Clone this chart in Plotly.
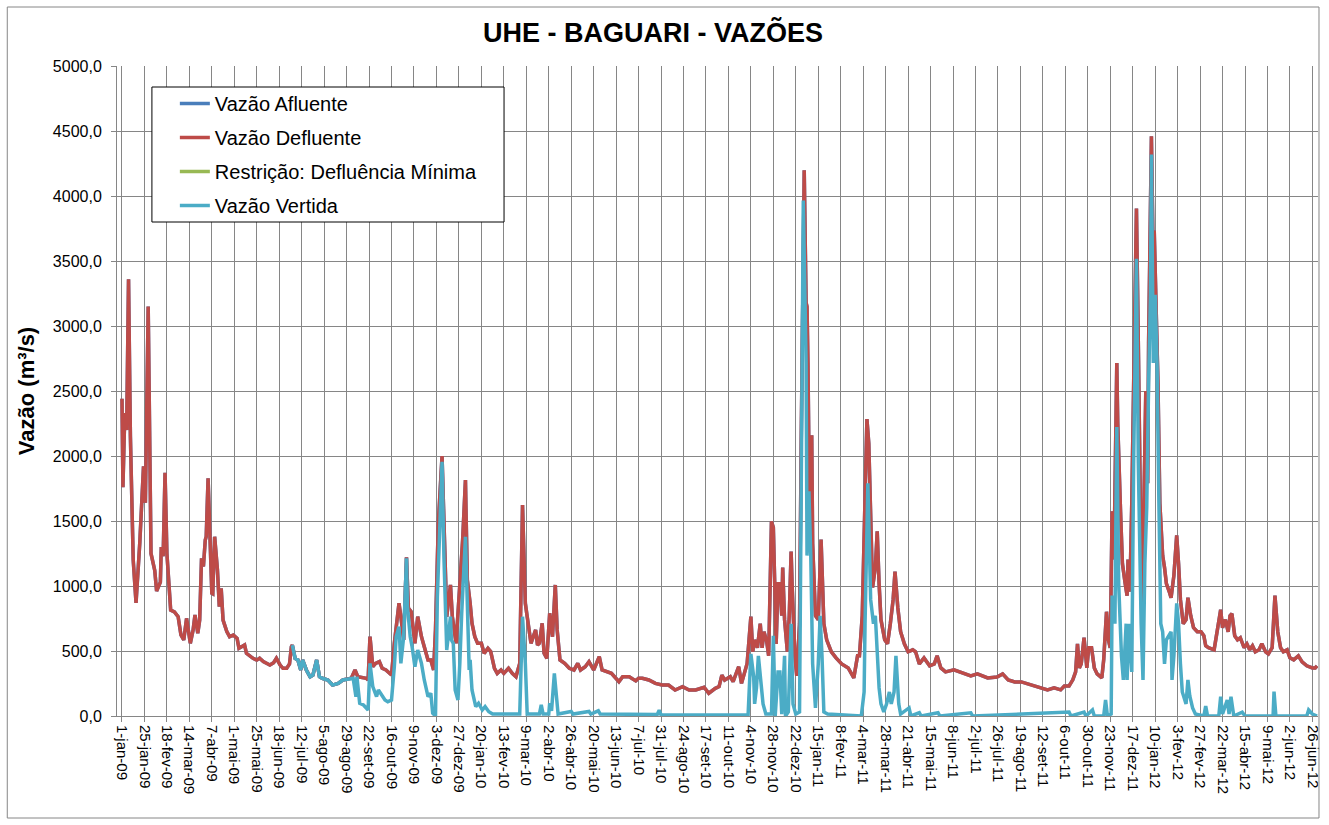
import pandas as pd
import plotly.graph_objects as go

# ---------------- data (day index counted from 1-jan-2009) ----------------
dias_defluente = [
    0, 1, 3, 5, 7, 9, 11, 12, 15, 19, 23, 25, 28, 30, 31, 35, 37, 41, 42, 44, 46, 48, 51, 52, 56, 60, 63, 66, 69, 71,
    73, 76, 78, 81, 83, 85, 87, 89, 90, 92, 94, 96, 97, 99, 102, 104, 106, 108, 112, 115, 119, 123, 125, 128, 131, 133,
    137, 140, 144, 147, 151, 154, 158, 162, 165, 169, 172, 176, 179, 181, 182, 185, 188, 191, 193, 197, 201, 204, 208,
    211, 214, 220, 225, 231, 236, 245, 249, 252, 261, 263, 265, 268, 271, 275, 278, 282, 288, 291, 296, 298, 301, 304,
    306, 309, 313, 316, 320, 323, 327, 330, 333, 335, 338, 342, 344, 347, 351, 353, 357, 360, 364, 367, 369, 372, 374,
    377, 380, 384, 387, 391, 394, 398, 401, 405, 408, 413, 417, 421, 425, 428, 431, 433, 437, 442, 444, 446, 449, 451,
    454, 457, 460, 463, 465, 468, 473, 478, 483, 487, 490, 495, 499, 504, 510, 513, 518, 523, 531, 535, 542, 549, 552,
    556, 563, 570, 577, 584, 591, 599, 606, 613, 622, 627, 634, 638, 641, 644, 650, 653, 659, 662, 668, 672, 674, 676,
    679, 682, 684, 686, 689, 691, 694, 696, 698, 699, 701, 703, 705, 706, 708, 711, 713, 715, 716, 719, 721, 724, 726,
    728, 729, 731, 732, 733, 735, 737, 738, 741, 744, 747, 748, 750, 753, 758, 763, 769, 776, 782, 786, 788, 791, 793,
    796, 798, 800, 802, 805, 807, 809, 811, 815, 818, 821, 824, 826, 829, 832, 836, 840, 845, 848, 852, 857, 863, 868,
    871, 875, 880, 889, 896, 907, 914, 925, 935, 941, 947, 954, 961, 968, 975, 982, 989, 996, 1003, 1007, 1012, 1016,
    1019, 1021, 1023, 1025, 1028, 1031, 1033, 1036, 1039, 1042, 1047, 1049, 1052, 1054, 1056, 1058, 1060, 1063, 1064,
    1067, 1069, 1072, 1074, 1075, 1077, 1079, 1081, 1084, 1086, 1088, 1090, 1092, 1094, 1096, 1097, 1100, 1102, 1103,
    1105, 1107, 1109, 1111, 1112, 1114, 1116, 1119, 1121, 1124, 1127, 1129, 1131, 1134, 1137, 1139, 1142, 1145, 1149,
    1153, 1156, 1158, 1161, 1167, 1170, 1174, 1176, 1179, 1182, 1184, 1186, 1189, 1192, 1195, 1199, 1202, 1205, 1208,
    1211, 1215, 1218, 1222, 1225, 1229, 1232, 1235, 1238, 1241, 1245, 1248, 1252, 1257, 1261, 1266, 1272, 1275, 1277,
]
vazao_defluente = [
    2440, 1760, 2330, 2200, 3360, 2150, 1510, 1200, 870, 1330, 1920, 1640, 3150, 1640, 1250, 1120, 960, 1030, 1300,
    1230, 1870, 1250, 870, 815, 800, 764, 623, 585, 751, 636, 559, 662, 777, 636, 738, 1213, 1150, 1354, 1380, 1828,
    1379, 944, 940, 1379, 1123, 841, 982, 738, 649, 610, 623, 597, 521, 533, 546, 482, 456, 444, 430, 444, 418, 405,
    392, 410, 444, 392, 367, 367, 400, 533, 546, 444, 431, 354, 431, 354, 302, 315, 431, 302, 290, 277, 238, 251, 277,
    290, 354, 302, 290, 277, 610, 379, 405, 418, 367, 354, 315, 559, 867, 764, 585, 1220, 830, 802, 559, 764, 610, 533,
    431, 431, 354, 662, 1480, 2000, 1431, 764, 1008, 764, 559, 867, 1354, 1815, 1046, 867, 713, 610, 559, 559, 482,
    521, 495, 367, 328, 354, 328, 367, 328, 302, 405, 1623, 867, 764, 559, 662, 546, 560, 713, 482, 444, 790, 610,
    1008, 662, 431, 405, 367, 354, 405, 354, 379, 418, 354, 456, 354, 341, 328, 264, 302, 302, 270, 290, 290, 277,
    251, 238, 238, 200, 226, 200, 200, 221, 175, 213, 226, 315, 277, 302, 264, 379, 251, 405, 764, 494, 585, 525, 710,
    525, 648, 570, 463, 1497, 1450, 864, 555, 1018, 1018, 771, 1142, 741, 494, 771, 1265, 1018, 463, 309, 710, 2253,
    3487, 4197, 3179, 3148, 2716, 1327, 2160, 1327, 771, 741, 1358, 1080, 710, 586, 494, 447, 401, 370, 293, 463, 463,
    771, 1358, 2284, 2098, 1636, 988, 1142, 1420, 1018, 741, 586, 555, 710, 895, 1111, 833, 648, 555, 494, 509, 494,
    401, 447, 386, 401, 463, 370, 339, 355, 339, 309, 324, 293, 300, 324, 278, 262, 262, 247, 231, 216, 201, 216, 201,
    231, 231, 278, 339, 555, 370, 401, 602, 370, 525, 525, 370, 324, 293, 432, 802, 586, 525, 1574, 1204, 2716, 2253,
    1574, 1173, 1018, 926, 1204, 957, 1636, 2562, 3904, 2870, 1636, 617, 1636, 2500, 1790, 2870, 4459, 3487, 3734,
    3240, 2562, 1636, 1327, 1234, 1142, 1018, 957, 910, 1080, 1389, 1173, 895, 710, 741, 910, 771, 679, 648, 648, 617,
    540, 525, 509, 648, 818, 679, 741, 648, 771, 787, 617, 586, 602, 525, 555, 509, 540, 494, 509, 555, 494, 478, 525,
    926, 648, 525, 494, 509, 447, 432, 463, 416, 386, 370, 370, 386,
]
# afluente read as overlapping the defluente curve (hidden underneath it)
dias_afluente = list(dias_defluente)
vazao_afluente = list(vazao_defluente)

# restrição: no visible values in the picture (legend entry only)
dias_restricao = [0]
vazao_restricao = [None]

dias_vertida = [
    182, 185, 188, 191, 193, 197, 201, 204, 208, 211, 214, 220, 225, 231, 236, 245, 247, 250, 251, 254, 258, 263, 265,
    268, 272, 274, 276, 281, 284, 288, 291, 293, 296, 298, 301, 304, 305, 308, 310, 313, 316, 320, 323, 327, 330, 332,
    335, 337, 342, 344, 347, 351, 352, 354, 356, 359, 361, 363, 367, 369, 371, 372, 374, 378, 381, 385, 388, 392, 396,
    425, 428, 431, 433, 446, 448, 450, 456, 457, 459, 462, 464, 466, 480, 482, 499, 501, 509, 511, 572, 574, 576, 669,
    672, 675, 676, 678, 680, 683, 685, 688, 694, 696, 698, 701, 703, 705, 708, 709, 712, 715, 717, 720, 724, 726, 728,
    731, 732, 734, 736, 738, 741, 744, 746, 748, 750, 754, 770, 790, 793, 794, 797, 799, 800, 803, 805, 807, 809, 811,
    814, 817, 820, 822, 825, 827, 830, 832, 841, 843, 852, 854, 872, 874, 907, 909, 1012, 1014, 1028, 1030, 1037, 1039,
    1049, 1051, 1053, 1057, 1058, 1061, 1063, 1065, 1068, 1070, 1073, 1074, 1076, 1079, 1081, 1084, 1086, 1089, 1091,
    1093, 1095, 1097, 1099, 1100, 1102, 1104, 1106, 1108, 1110, 1112, 1114, 1116, 1118, 1121, 1122, 1124, 1127, 1129,
    1131, 1133, 1137, 1139, 1141, 1144, 1147, 1156, 1158, 1160, 1172, 1174, 1176, 1181, 1183, 1185, 1188, 1197, 1200,
    1230, 1231, 1233, 1266, 1268, 1272, 1277,
]
vazao_vertida = [
    546, 444, 431, 354, 431, 354, 302, 315, 431, 302, 290, 277, 238, 251, 277, 290, 290, 149, 302, 98, 85, 46, 405,
    226, 149, 200, 175, 123, 110, 123, 379, 610, 687, 405, 610, 1213, 841, 610, 533, 379, 508, 405, 277, 149, 175, 21,
    0, 918, 1956, 1226, 508, 764, 585, 559, 200, 123, 405, 790, 1379, 764, 354, 431, 200, 72, 98, 46, 72, 33, 15,
    15, 764, 405, 15, 15, 85, 15, 15, 98, 40, 328, 175, 15, 35, 15, 35, 15, 40, 15, 12, 45, 8, 8,
    478, 300, 93, 216, 463, 216, 93, 15, 15, 617, 0, 339, 339, 15, 463, 0, 31, 710, 93, 15, 31, 1944, 3966,
    2716, 1234, 1728, 1234, 401, 62, 401, 771, 463, 31, 15, 10, 0, 185, 710, 1790, 1327, 895, 710, 771, 494, 216, 93,
    31, 93, 185, 93, 185, 463, 93, 15, 62, 0, 25, 0, 25, 0, 25, 0, 30, 0, 30, 0, 46, 0,
    0, 123, 0, 15, 926, 710, 2222, 1019, 463, 278, 710, 278, 710, 339, 1944, 3518, 1944, 710, 278,
    1173, 1605, 2562, 3240, 4320, 2716, 3240, 2716, 1636, 710, 648, 401, 586, 617, 648, 278, 463, 867, 710,
    401, 185, 93, 278, 154, 62, 15, 0, 77, 0, 0, 149, 15, 123, 15, 149, 0, 30, 0,
    0, 187, 0, 0, 46, 15, 0,
]

rotulos_x = [
    "1-jan-09", "25-jan-09", "18-fev-09", "14-mar-09", "7-abr-09", "1-mai-09", "25-mai-09", "18-jun-09", "12-jul-09",
    "5-ago-09", "29-ago-09", "22-set-09", "16-out-09", "9-nov-09", "3-dez-09", "27-dez-09", "20-jan-10", "13-fev-10",
    "9-mar-10", "2-abr-10", "26-abr-10", "20-mai-10", "13-jun-10", "7-jul-10", "31-jul-10", "24-ago-10", "17-set-10",
    "11-out-10", "4-nov-10", "28-nov-10", "22-dez-10", "15-jan-11", "8-fev-11", "4-mar-11", "28-mar-11", "21-abr-11",
    "15-mai-11", "8-jun-11", "2-jul-11", "26-jul-11", "19-ago-11", "12-set-11", "6-out-11", "30-out-11", "23-nov-11",
    "17-dez-11", "10-jan-12", "3-fev-12", "27-fev-12", "22-mar-12", "15-abr-12", "9-mai-12", "2-jun-12", "26-jun-12",
]

# ---------------- helpers ----------------
INICIO = pd.Timestamp("2009-01-01")
MESES = {"jan": 1, "fev": 2, "mar": 3, "abr": 4, "mai": 5, "jun": 6,
         "jul": 7, "ago": 8, "set": 9, "out": 10, "nov": 11, "dez": 12}


def to_dates(dias):
    return [INICIO + pd.Timedelta(days=d) for d in dias]


def parse_rotulo(s):
    d, m, a = s.split("-")
    return pd.Timestamp(year=2000 + int(a), month=MESES[m], day=int(d))


tick_vals = [parse_rotulo(s) for s in rotulos_x]

FONT = "Liberation Sans"
LW = 3.5

fig = go.Figure()
fig.add_trace(go.Scatter(x=to_dates(dias_afluente), y=vazao_afluente, mode="lines", name="Vazão Afluente",
                         line=dict(color="#4A7EBB", width=LW), legendgroup="a"))
fig.add_trace(go.Scatter(x=to_dates(dias_defluente), y=vazao_defluente, mode="lines", name="Vazão Defluente",
                         line=dict(color="#BE4B48", width=LW), legendgroup="b"))
fig.add_trace(go.Scatter(x=to_dates(dias_restricao), y=vazao_restricao, mode="lines",
                         name="Restrição: Defluência Mínima", showlegend=True,
                         line=dict(color="#98B954", width=LW), legendgroup="c"))
fig.add_trace(go.Scatter(x=to_dates(dias_vertida), y=vazao_vertida, mode="lines", name="Vazão Vertida",
                         line=dict(color="#4BACC6", width=LW), legendgroup="d"))

L, R, T, B = 117, 8, 66, 109
W, H = 1329, 825
pw, ph = W - L - R, H - T - B


def px_x(x):
    return (x - L) / pw


def px_y(y):
    return (H - B - y) / ph


fig.update_layout(
    width=W, height=H,
    margin=dict(l=L, r=R, t=T, b=B),
    paper_bgcolor="white", plot_bgcolor="white",
    separators=",.",
    font=dict(family=FONT, color="black"),
    title=dict(text="<b>UHE - BAGUARI - VAZÕES</b>", x=653 / W, xref="container", xanchor="center",
               y=1 - 33 / H, yref="container", yanchor="middle", font=dict(size=27, family=FONT)),
    showlegend=True,
    legend=dict(x=px_x(175), y=px_y(84), xanchor="left", yanchor="top",
                bgcolor="rgba(0,0,0,0)", borderwidth=0, tracegroupgap=5,
                font=dict(size=20, family=FONT)),
    xaxis=dict(
        type="date",
        range=[INICIO - pd.Timedelta(hours=128), INICIO + pd.Timedelta(days=1278)],
        tickmode="array", tickvals=tick_vals, ticktext=rotulos_x, tickangle=90,
        tickfont=dict(size=15, family=FONT),
        showgrid=True, gridcolor="#868686", gridwidth=1,
        showline=True, linecolor="#868686", linewidth=1,
        ticks="outside", ticklen=5, tickcolor="#868686",
        zeroline=False,
    ),
    yaxis=dict(
        range=[0, 5000], dtick=500, tick0=0, tickformat=".1f",
        tickfont=dict(size=16, family=FONT), ticklabelstandoff=6,
        title=dict(text="<b>Vazão (m³/s)</b>", font=dict(size=22, family=FONT), standoff=12),
        showgrid=True, gridcolor="#868686", gridwidth=1,
        showline=True, linecolor="#868686", linewidth=1,
        ticks="outside", ticklen=5, tickcolor="#868686",
        zeroline=False,
    ),
    shapes=[
        # legend box
        dict(type="rect", xref="paper", yref="paper", x0=px_x(152), x1=px_x(505), y0=px_y(222), y1=px_y(87),
             line=dict(color="black", width=1), fillcolor="white", layer="above"),
        # outer chart border
        dict(type="rect", xref="paper", yref="paper", x0=px_x(7), x1=px_x(1322), y0=px_y(818), y1=px_y(7),
             line=dict(color="#868686", width=1), fillcolor="rgba(0,0,0,0)", layer="above"),
    ],
)

fig.write_html("out.html", config={"displayModeBar": False},
               post_script="document.body.style.margin='0';document.body.style.overflow='hidden';")
